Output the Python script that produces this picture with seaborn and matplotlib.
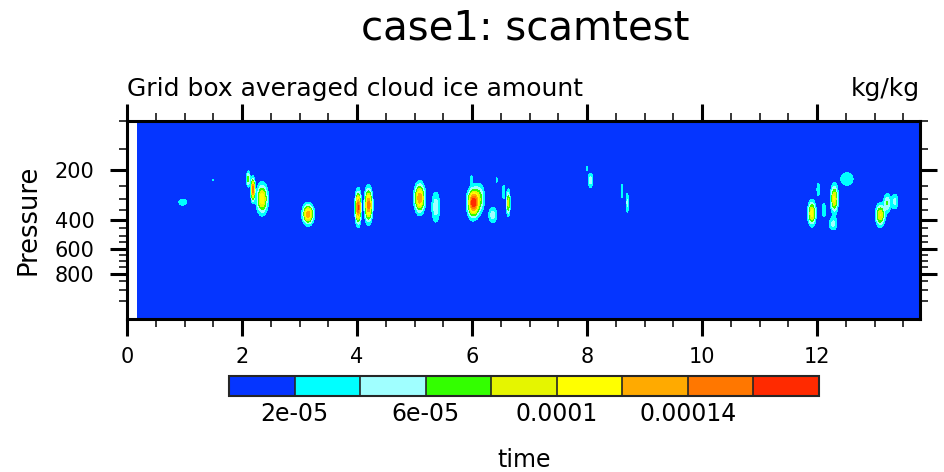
import numpy as np
import matplotlib
matplotlib.use("Agg")
import matplotlib.pyplot as plt
from matplotlib.colors import ListedColormap, BoundaryNorm
import seaborn as sns

# Model mid-level pressures (hPa), top to bottom
lev_p = [3.54, 7.39, 13.97, 23.94, 37.23, 53.11, 70.06, 85.44, 100.51, 118.25,
         139.12, 163.66, 192.54, 226.51, 266.48, 313.50, 368.82, 433.90, 510.46,
         600.52, 696.80, 787.70, 867.16, 929.65, 970.55, 992.56]

# Ice cloud cells: centre time (days), centre pressure (hPa), peak (kg/kg),
# spread in time (days) and spread in model levels
cell_time = [0.97, 1.49, 2.11, 2.19, 2.35, 3.15, 4.02, 4.20, 5.09, 5.37,
             6.02, 6.13, 5.99, 6.36, 6.43, 6.55, 6.63, 8.00, 8.06, 8.61,
             8.70, 11.91, 12.02, 12.12, 12.30, 12.28, 12.52, 13.10, 13.22, 13.35]
cell_pres = [313, 230, 226, 262, 299, 370, 338, 326, 296, 336,
             316, 296, 226, 375, 230, 271, 316, 195, 230, 268,
             316, 365, 262, 350, 299, 425, 226, 375, 316, 310]
cell_peak = [3.2e-5, 2.3e-5, 7e-5, 1.5e-4, 1.15e-4, 1.35e-4, 1.62e-4, 1.5e-4, 1.4e-4, 5.2e-5,
             1.7e-4, 6e-5, 3e-5, 5e-5, 2.8e-5, 4e-5, 9e-5, 2.4e-5, 5e-5, 3.5e-5,
             4.5e-5, 1.1e-4, 3.5e-5, 3.5e-5, 1.05e-4, 4.5e-5, 3.5e-5, 1e-4, 6e-5, 4.5e-5]
cell_dt = [0.07, 0.02, 0.02, 0.02, 0.06, 0.058, 0.03, 0.04, 0.055, 0.05,
           0.06, 0.06, 0.015, 0.05, 0.012, 0.018, 0.02, 0.012, 0.03, 0.012,
           0.015, 0.042, 0.02, 0.03, 0.04, 0.05, 0.1, 0.05, 0.04, 0.04]
cell_dk = [0.25, 0.12, 0.44, 0.6, 0.8, 0.53, 0.85, 0.9, 0.77, 0.93,
           0.75, 0.8, 0.3, 0.48, 0.25, 0.5, 0.7, 0.3, 0.45, 0.55,
           0.65, 0.65, 0.5, 0.5, 0.75, 0.4, 0.5, 0.6, 0.55, 0.5]

# Contour levels and fill colours
clevels = [2e-5, 4e-5, 6e-5, 8e-5, 1e-4, 1.2e-4, 1.4e-4, 1.6e-4]
fill_colors = ["#0535FF", "#00FFFF", "#A0FFFF", "#33FF00", "#E5F500",
               "#FFFF00", "#FFAA00", "#FF7700", "#FF2A00"]
cbar_ticks = [2e-5, 6e-5, 1e-4, 1.4e-4]
cbar_ticklabels = ["2e-05", "6e-05", "0.0001", "0.00014"]

major_p = [200, 400, 600, 800]
minor_p = [100, 150, 250, 300, 350, 450, 500, 550, 650, 700, 750, 850, 900, 950]

sns.set_style("white")
plt.rcParams["font.family"] = ["DejaVu Sans"]
for key in ["text.color", "axes.labelcolor", "xtick.color", "ytick.color"]:
    plt.rcParams[key] = "black"

lev_idx = np.arange(len(lev_p), dtype=float)
def p2k(p):
    return np.interp(p, lev_p, lev_idx)

# Field on (time, model level) grid
t = np.arange(0.18, 13.80, 0.01)
k = np.arange(7.9, 25.06, 0.04)
T, K = np.meshgrid(t, k)
field = np.zeros_like(T)
for tc, pc, a, dt, dk in zip(cell_time, cell_pres, cell_peak, cell_dt, cell_dk):
    kc = p2k(pc)
    field += a * np.exp(-0.5 * ((T - tc) / dt) ** 2 - 0.5 * ((K - kc) / dk) ** 2)

fig = plt.figure(figsize=(9.44, 4.72), dpi=100)
ax = fig.add_axes([127 / 944, 1 - 318.5 / 472, 793 / 944, 197.8 / 472])

bounds = [-1.0] + clevels + [1.0]
cmap = ListedColormap(sns.color_palette(fill_colors))
norm = BoundaryNorm(bounds, cmap.N)
cs = ax.contourf(T, K, field, levels=bounds, cmap=cmap, norm=norm)

# top of the axis sits at 100 hPa (just above the first plotted level)
k_top = 8.0 - (lev_p[8] - 100.0) / (lev_p[9] - lev_p[8])
ax.set_ylim(25.0, k_top)
ax.set_xlim(0, 13.79)

ax.set_xticks(np.arange(0, 13, 2))
ax.set_xticks(np.arange(0, 13.8, 0.5), minor=True)
ax.set_yticks(p2k(major_p))
ax.set_yticklabels([str(p) for p in major_p])
ax.set_yticks(p2k(minor_p), minor=True)

for s in ax.spines.values():
    s.set_linewidth(2.2)
    s.set_color("black")
ax.tick_params(which="major", direction="out", length=12.5, width=2.2,
               top=True, right=True, bottom=True, left=True,
               labelsize=15, colors="black")
ax.tick_params(which="minor", direction="out", length=6, width=1.1,
               top=True, right=True, bottom=True, left=True, colors="black")
ax.tick_params(axis="x", which="major", pad=8)
ax.tick_params(axis="y", which="major", pad=11)

ax.set_ylabel("Pressure", fontsize=18.5, labelpad=9)
ax.set_title("Grid box averaged cloud ice amount", loc="left", fontsize=18, pad=18)
ax.set_title("kg/kg", loc="right", fontsize=18, pad=18)
fig.text(0.556, 0.94, "case1: scamtest", ha="center", va="center", fontsize=29)

cax = fig.add_axes([229 / 944, 1 - 396 / 472, 590 / 944, 20 / 472])
cb = fig.colorbar(cs, cax=cax, orientation="horizontal", spacing="uniform",
                  drawedges=True)
cb.set_ticks(cbar_ticks)
cb.set_ticklabels(cbar_ticklabels)
cb.minorticks_off()
cb.ax.tick_params(which="both", length=0, labelsize=17, pad=4)
cb.outline.set_linewidth(1.5)
cb.dividers.set_linewidth(1.2)
fig.text(0.555, 0.025, "time", ha="center", va="center", fontsize=17)

fig.savefig("out.png", dpi=100)
